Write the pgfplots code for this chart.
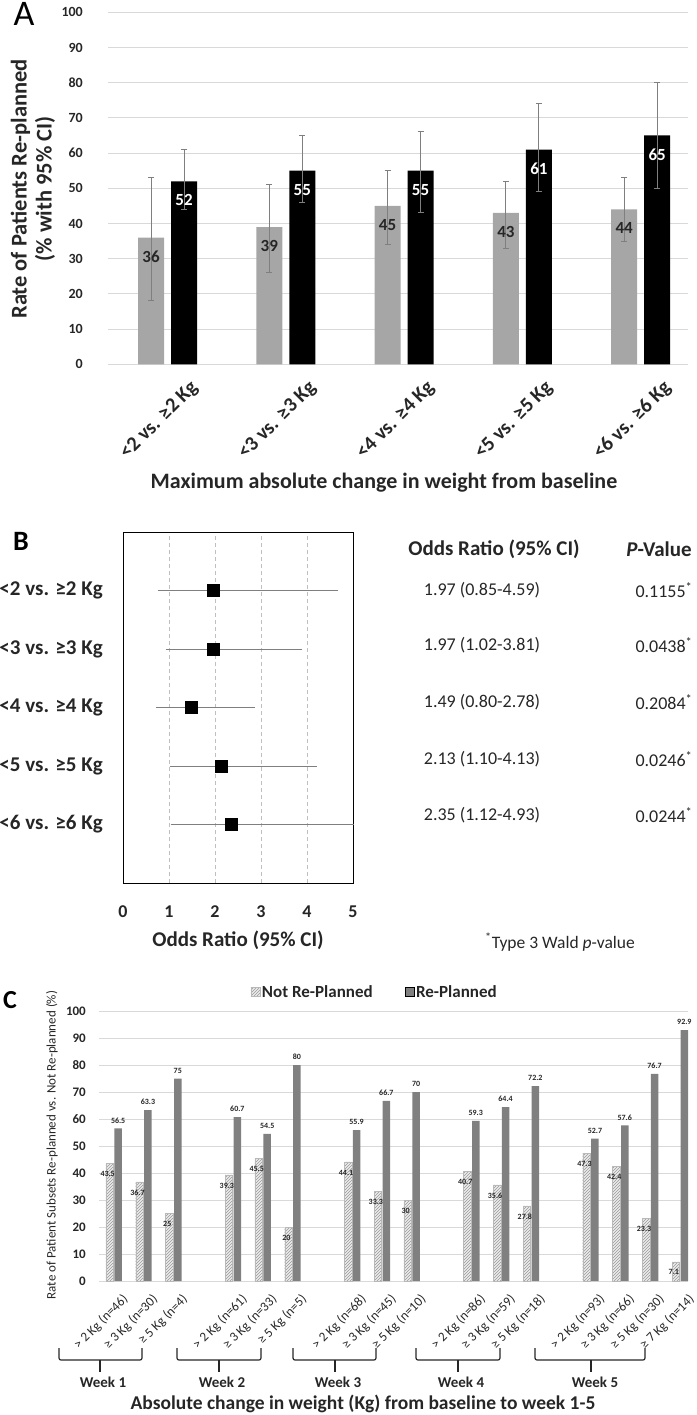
\documentclass[border=0pt]{standalone}
\usepackage{fontspec}
\setmainfont{Carlito}
\usepackage{pgfplots}
\pgfplotsset{compat=1.18}
\usepackage{pgfplotstable}
\usetikzlibrary{patterns}
\definecolor{gridgray}{HTML}{D9D9D9}
\definecolor{barlight}{HTML}{A6A6A6}
\definecolor{errgray}{HTML}{7F7F7F}
\definecolor{txtdark}{HTML}{262626}
\definecolor{solidgray}{HTML}{808080}
\newcommand{\fs}[1]{\fontsize{#1}{#1}\selectfont}
\pgfplotsset{/pgf/number format/assume math mode=true}

\pgfplotstableread{
x y ep em
0 36 17 18
1 39 12 13
2 45 10 11
3 43 9 10
4 44 9 9
}\Agray
\pgfplotstableread{
x y ep em
0 52 9 8
1 55 10 9
2 55 11 12
3 61 13 12
4 65 15 15
}\Ablack
\pgfplotstableread{
y or ep em
5 1.97 2.62 1.12
4 1.97 1.84 0.95
3 1.49 1.29 0.69
2 2.13 2.00 1.03
1 2.35 2.58 1.23
}\Bdata
\pgfplotstableread{
x nrp rp
0 43.5 56.5
1 36.7 63.3
2 25 75
4 39.3 60.7
5 45.5 54.5
6 20 80
8 44.1 55.9
9 33.3 66.7
10 30 70
12 40.7 59.3
13 35.6 64.4
14 27.8 72.2
16 47.3 52.7
17 42.4 57.6
18 23.3 76.7
19 7.1 92.9
}\Cdata

\begin{document}
\begin{tikzpicture}[x=1pt,y=1pt]
\useasboundingbox (0,0) rectangle (696,-1415);

% ---------------- Panel A ----------------
\begin{axis}[
  at={(108pt,-364.3pt)}, anchor=south west,
  scale only axis, width=580pt, height=352pt,
  xmin=-0.503, xmax=4.40, ymin=0, ymax=100,
  ytick={0,10,...,100},
  xtick={0,...,4},
  xticklabels={{<2 vs. ≥2 Kg},{<3 vs. ≥3 Kg},{<4 vs. ≥4 Kg},{<5 vs. ≥5 Kg},{<6 vs. ≥6 Kg}},
  axis line style={draw=none},
  ymajorgrids, grid style={gridgray, line width=1pt},
  major tick length=0pt,
  yticklabel style={font=\bfseries\fs{14}, text=txtdark, anchor=east, inner sep=0pt, xshift=-25pt},
  xticklabel style={font=\bfseries\fs{20.5}, text=txtdark, rotate=45, anchor=east, inner sep=0pt, xshift=5pt, yshift=-34pt},
  ybar, bar width=26pt,
  clip=false,
]
\addplot[draw=none, fill=barlight, bar shift=-16.5pt,
  nodes near coords, nodes near coords align={center},
  every node near coord/.append style={font=\bfseries\fs{17}, text=txtdark, yshift=-19pt},
  error bars/.cd, y dir=both, y explicit,
  error bar style={errgray, line width=1pt},
  error mark options={errgray, rotate=90, mark size=3pt, line width=1pt}]
  table[x=x, y=y, y error plus=ep, y error minus=em]{\Agray};
\addplot[draw=none, fill=black, bar shift=16.5pt,
  nodes near coords, nodes near coords align={center},
  every node near coord/.append style={font=\bfseries\fs{17}, text=white, yshift=-19pt},
  error bars/.cd, y dir=both, y explicit,
  error bar style={errgray, line width=1pt},
  error mark options={errgray, rotate=90, mark size=3pt, line width=1pt}]
  table[x=x, y=y, y error plus=ep, y error minus=em]{\Ablack};
\end{axis}

% ---------------- Panel B ----------------
\begin{axis}[
  at={(123pt,-883pt)}, anchor=south west,
  scale only axis, width=230pt, height=351pt,
  xmin=0, xmax=5, ymin=0, ymax=6,
  xtick={0,...,5}, ytick={1,...,5},
  yticklabels={{<6 vs. ≥6 Kg},{<5 vs. ≥5 Kg},{<4 vs. ≥4 Kg},{<3 vs. ≥3 Kg},{<2 vs. ≥2 Kg}},
  major tick length=0pt,
  axis line style={black, line width=1pt},
  xmajorgrids, grid style={gray!50, dash pattern=on 4pt off 3pt, line width=0.8pt},
  yticklabel style={font=\bfseries\fs{21}, text=txtdark, anchor=east, inner sep=0pt, xshift=-20pt},
  xticklabel style={font=\bfseries\fs{18}, text=txtdark, anchor=base, inner sep=0pt, yshift=-34pt},
  clip=false,
]
\addplot[only marks, mark=square*, mark size=6pt, black,
  error bars/.cd, x dir=both, x explicit,
  error bar style={errgray, line width=1pt},
  error mark options={errgray, mark size=4pt, line width=1pt}]
  table[x=or, y=y, x error plus=ep, x error minus=em]{\Bdata};
\end{axis}

% ---------------- Panel C ----------------
\begin{axis}[
  at={(99pt,-1281pt)}, anchor=south west,
  scale only axis, width=589pt, height=270pt,
  xmin=-0.5, xmax=19.265, ymin=0, ymax=100,
  ytick={0,10,...,100},
  xtick={0,1,2,4,5,6,8,9,10,12,13,14,16,17,18,19},
  xticklabels={{> 2 Kg (n=46)},{≥ 3 Kg (n=30)},{≥ 5 Kg (n=4)},
               {> 2 Kg (n=61)},{≥ 3 Kg (n=33)},{≥ 5 Kg (n=5)},
               {> 2 Kg (n=68)},{≥ 3 Kg (n=45)},{≥ 5 Kg (n=10)},
               {> 2 Kg (n=86)},{≥ 3 Kg (n=59)},{≥ 5 Kg (n=18)},
               {> 2 Kg (n=93)},{≥ 3 Kg (n=66)},{≥ 5 Kg (n=30)},{≥ 7 Kg (n=14)}},
  axis line style={draw=none},
  ymajorgrids, grid style={gridgray, line width=1pt},
  major tick length=0pt,
  yticklabel style={font=\bfseries\fs{13}, text=txtdark, anchor=east, inner sep=0pt, xshift=-13pt},
  xticklabel style={font=\fs{13.2}, text=txtdark, rotate=45, anchor=east, inner sep=0pt, xshift=-3pt, yshift=-20pt},
  ybar, bar width=7.5pt,
  clip=false,
  legend columns=2,
  legend image code/.code={\draw[#1] (0pt,-4.5pt) rectangle (9pt,4.5pt);},
  legend style={draw=none, fill=none, at={(axis description cs:0.468,1.07)}, anchor=center,
    font=\bfseries\fs{17}, text=txtdark,
    /tikz/every even column/.append style={column sep=30pt}},
]
\addplot[fill=gray!15, draw=gray!55, line width=0.4pt,
  postaction={pattern=north east lines, pattern color=gray!80},
  bar shift=-4.25pt,
  nodes near coords, nodes near coords align={center},
  every node near coord/.append style={font=\bfseries\fs{8}, text=txtdark, yshift=-10.5pt, xshift=-2pt}]
  table[x=x, y=nrp]{\Cdata};
\addplot[fill=solidgray, draw=none, bar shift=4.25pt,
  nodes near coords, nodes near coords align={center},
  every node near coord/.append style={font=\bfseries\fs{8}, text=txtdark, yshift=8pt}]
  table[x=x, y=rp]{\Cdata};
\legend{Not Re-Planned, Re-Planned}
\end{axis}

% ---------------- Text annotations ----------------
\node[font=\fs{36}, text=black] at (24,-14) {A};
\node[font=\bfseries\fs{28}, text=black] at (21,-541) {B};
\node[font=\bfseries\fs{26}, text=black] at (10,-1000) {C};

\node[font=\bfseries\fontsize{22.5}{25}\selectfont, text=txtdark, rotate=90, align=center] at (33,-189)
  {Rate of Patients Re-planned\\(\% with 95\% CI)};
\node[font=\bfseries\fs{22}, text=txtdark] at (384,-483) {Maximum absolute change in weight from baseline};

\node[font=\bfseries\fs{21}, text=txtdark] at (238,-940) {Odds Ratio (95\% CI)};
\node[font=\bfseries\fs{21}, text=txtdark] at (494,-549) {Odds Ratio (95\% CI)};
\node[font=\bfseries\fs{21}, text=txtdark] at (659,-549) {\textit{P}-Value};
\foreach \t/\p/\yy in {{1.97 (0.85-4.59)}/0.1155/590, {1.97 (1.02-3.81)}/0.0438/645, {1.49 (0.80-2.78)}/0.2084/702, {2.13 (1.10-4.13)}/0.0246/759, {2.35 (1.12-4.93)}/0.0244/815}{
  \node[font=\fs{18}, text=txtdark] at (482,-\yy) {\t};
  \node[font=\fs{18}, text=txtdark, anchor=west] at (632,-\yy) {\p\textsuperscript{*}};
}
\node[font=\fs{17.5}, text=txtdark] at (560,-942) {\textsuperscript{*}Type 3 Wald \textit{p}-value};

\node[font=\fs{13}, text=txtdark, rotate=90] at (52,-1145) {Rate of Patient Subsets Re-planned vs. Not Re-planned (\%)};
\begin{scope}[draw=txtdark, line width=1.2pt, rounded corners=2pt]
\foreach \a/\b/\c/\w/\lab in {59/142/100/103/Week 1, 177/261/219/222/Week 2, 293/376/335/338/Week 3, 416/500/458/461/Week 4, 535/645/591/595/Week 5}{
  \draw (\a,-1348) -- (\a,-1360) -- (\b,-1360) -- (\b,-1348);
  \draw[rounded corners=0pt] (\c,-1360) -- (\c,-1372);
  \node[font=\bfseries\fs{15}, text=txtdark] at (\w,-1382) {\lab};
}
\end{scope}
\node[font=\bfseries\fs{19.5}, text=txtdark] at (363,-1404) {Absolute change in weight (Kg) from baseline to week 1-5};
\end{tikzpicture}
\end{document}
